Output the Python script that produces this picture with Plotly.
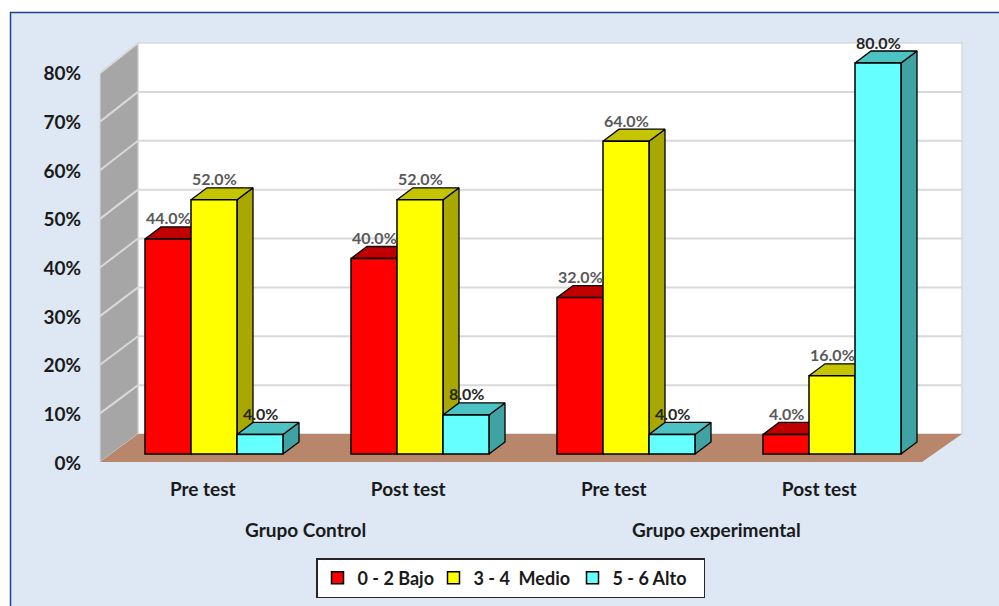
import plotly.graph_objects as go

tests = ["Pre test", "Post test", "Pre test", "Post test"]
groups = ["Grupo Control", "Grupo experimental"]
series_names = ["0 - 2 Bajo", "3 - 4  Medio", "5 - 6 Alto"]
bajo = [44.0, 40.0, 32.0, 4.0]
medio = [52.0, 52.0, 64.0, 16.0]
alto = [4.0, 8.0, 4.0, 80.0]
y_ticks = [0, 10, 20, 30, 40, 50, 60, 70, 80]

W, H = 999, 606
FONT = "Lato"
FRONT, TOP, SIDE = ["#FF0000", "#FFFF00", "#66FFFF"], ["#C00000", "#C4C400", "#4DC2C2"], ["#A80000", "#A8A800", "#40A3A3"]
LABEL_COL = ["#595959", "#595959", "#262626"]
LEGEND_W = [71, 94, 86]
values = [bajo, medio, alto]

# pixel calibration of the bar plane
X0_PX, X_UNIT = 214, 206        # centre of first group, group spacing
Y0_PX, Y_UNIT = 454, 391 / 80   # value 0 baseline, pixels per percent
BAR_W = 46 / X_UNIT
DX, DY = 16 / X_UNIT, 12 / Y_UNIT  # bar depth
x_range = [(0 - X0_PX) / X_UNIT, (W - X0_PX) / X_UNIT]
y_range = [(Y0_PX - H) / Y_UNIT, Y0_PX / Y_UNIT]
def ux(px): return (px - X0_PX) / X_UNIT
def uy(py): return (Y0_PX - py) / Y_UNIT
def back_py(v): return 434 - v * 391 / 80
def front_py(v): return 462 - v * 389 / 80

def poly(pts, fill, line="rgba(0,0,0,0)", lw=0, layer="below"):
    path = "M " + " L ".join(f"{ux(a)},{uy(b)}" for a, b in pts) + " Z"
    return dict(type="path", path=path, xref="x", yref="y", fillcolor=fill,
                line=dict(color=line, width=lw), layer=layer)

def seg(a, b, c, d):
    return dict(type="line", x0=ux(a), y0=uy(b), x1=ux(c), y1=uy(d), xref="x", yref="y",
                line=dict(color="#D9D9D9", width=2), layer="below")

shapes = [
    dict(type="rect", xref="paper", yref="paper", x0=10.5 / W, x1=1.02, y0=-0.02, y1=1 - 12.5 / H,
         fillcolor="#DDE8F4", line=dict(color="#1F3F8F", width=1.5), layer="below"),
    poly([(138, 43), (962, 43), (962, 434), (138, 434)], "#FFFFFF", "#D9D9D9", 1.5),
    poly([(100, 73), (138, 43), (138, 434), (100, 462)], "#A6A6A6", "#D9D9D9", 1),
    poly([(100, 462), (138, 434), (962, 434), (922, 462)], "#B8866A"),
]
for v in y_ticks[1:-1]:
    shapes.append(seg(138, back_py(v), 962, back_py(v)))
for v in y_ticks[1:]:
    shapes.append(seg(100, front_py(v), 138, back_py(v)))

fig = go.Figure()
annotations = []

# front-plane axes carrying the tick labels
fig.add_trace(go.Scatter(x=[0, 1, 2, 3], y=[0, 0, 0, 0], xaxis="x2", yaxis="y2", mode="markers",
                         marker=dict(opacity=0), showlegend=False, hoverinfo="skip"))

# top and side faces, left to right
for g in range(4):
    for s in range(3):
        v = values[s][g]
        x0 = g + (s - 1.5) * BAR_W
        x1 = x0 + BAR_W
        fig.add_trace(go.Scatter(
            x=[x1, x1 + DX, x1 + DX, x1, x1], y=[0, DY, v + DY, v, 0], mode="lines", fill="toself",
            fillcolor=SIDE[s], line=dict(color="#000000", width=1.3), showlegend=False, hoverinfo="skip"))
        fig.add_trace(go.Scatter(
            x=[x0, x1, x1 + DX, x0 + DX, x0], y=[v, v, v + DY, v + DY, v], mode="lines", fill="toself",
            fillcolor=TOP[s], line=dict(color="#000000", width=1.3), showlegend=False, hoverinfo="skip"))
        annotations.append(dict(x=(x0 + x1) / 2, y=v, xref="x", yref="y", yshift=21, text=f"{v:.1f}%",
                                showarrow=False, font=dict(family=FONT, size=16, color=LABEL_COL[s], weight=700),
                                yanchor="middle"))

# front faces
for s in range(3):
    fig.add_trace(go.Bar(x=[0, 1, 2, 3], y=values[s], name=series_names[s], xaxis="x3", yaxis="y3",
                         marker=dict(color=FRONT[s], line=dict(color="#000000", width=1.5)),
                         width=BAR_W, hoverinfo="skip", legendwidth=LEGEND_W[s]))

for i, g in enumerate(groups):
    annotations.append(dict(x=0.5 + 2 * i, xref="x2", y=1 - 529 / H, yref="paper", yanchor="middle", text=g,
                            showarrow=False, font=dict(family=FONT, size=19, color="#1a1a1a", weight=700)))

fig.update_layout(
    width=W, height=H, margin=dict(l=0, r=0, t=0, b=0, autoexpand=False), autosize=False,
    paper_bgcolor="#FFFFFF", plot_bgcolor="rgba(0,0,0,0)",
    barmode="group", bargap=1 - 3 * BAR_W, bargroupgap=0,
    shapes=shapes, annotations=annotations,
    xaxis=dict(domain=[0, 1], range=x_range, visible=False, fixedrange=True),
    yaxis=dict(domain=[0, 1], range=y_range, visible=False, fixedrange=True),
    xaxis3=dict(overlaying="x", range=x_range, visible=False, anchor="y3"),
    yaxis3=dict(overlaying="y", range=y_range, visible=False, anchor="x3"),
    xaxis2=dict(domain=[100 / W, 922 / W], range=[-0.5, 3.5], anchor="y2", tickmode="array",
                tickvals=[0, 1, 2, 3], ticktext=tests, showgrid=False, zeroline=False, showline=False,
                ticks="", ticklabelstandoff=13,
                tickfont=dict(family=FONT, size=19, color="#1a1a1a", weight=700)),
    yaxis2=dict(domain=[1 - 463 / H, 1 - 73.5 / H], range=[0, 80], anchor="x2", tickmode="array",
                tickvals=y_ticks, ticktext=[f"{v}%" for v in y_ticks], showgrid=False, zeroline=False,
                showline=False, ticks="", ticklabelstandoff=18,
                tickfont=dict(family=FONT, size=19, color="#1a1a1a", weight=700)),
    legend=dict(orientation="h", x=316 / W, xanchor="left", y=1 - 558 / H, yanchor="top",
                bgcolor="#FFFFFF", bordercolor="#262626", borderwidth=1.5,
                font=dict(family=FONT, size=18, color="#1a1a1a", weight=700),
                itemwidth=30, traceorder="normal"),
)

fig.write_html("out.html", config=dict(displayModeBar=False),
               post_script="document.body.style.margin='0';document.body.style.overflow='hidden';")
